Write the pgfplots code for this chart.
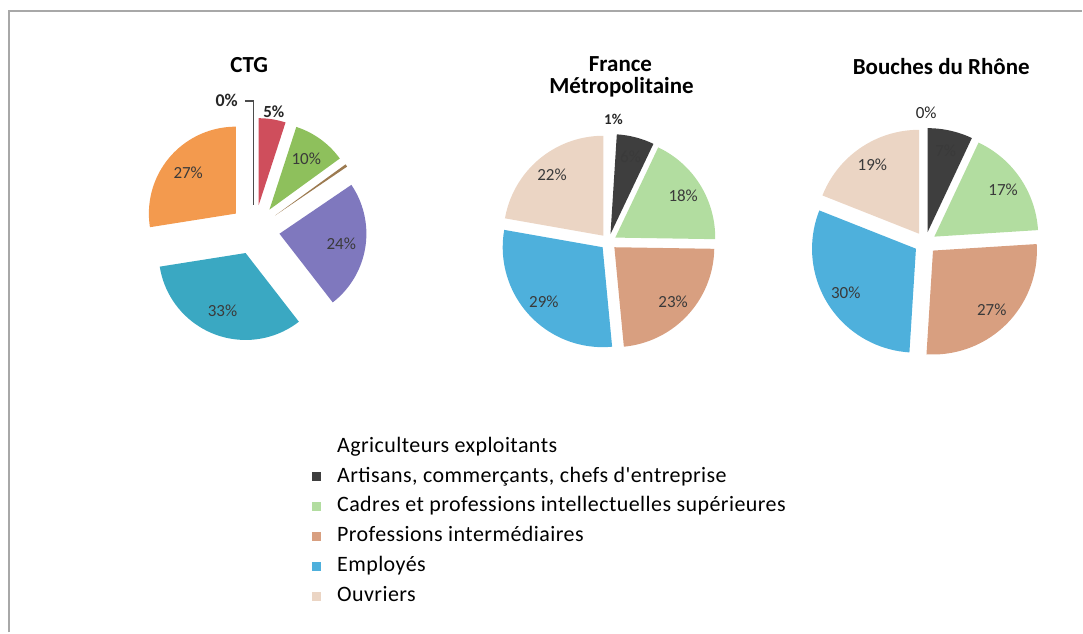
\documentclass[border=0pt]{standalone}
\usepackage{fontspec}
\setmainfont{Carlito}
\newfontfamily\legfont[LetterSpace=2]{Carlito}
\usepackage{pgfplots}
\pgfplotsset{compat=1.18}

\definecolor{ctgRed}{HTML}{CF4E5C}
\definecolor{ctgGreen}{HTML}{8EC05C}
\definecolor{ctgBrown}{HTML}{9C7A50}
\definecolor{ctgPurple}{HTML}{7F78BE}
\definecolor{ctgTeal}{HTML}{3AA8C2}
\definecolor{ctgOrange}{HTML}{F39A4E}
\definecolor{cDark}{HTML}{3E3E3E}
\definecolor{cGreen}{HTML}{B2DDA0}
\definecolor{cBrown}{HTML}{D89F80}
\definecolor{cBlue}{HTML}{4EB0DC}
\definecolor{cBeige}{HTML}{EBD5C4}
\definecolor{lbl}{HTML}{3A3A3A}
\definecolor{frame}{HTML}{A8A8A8}

\newcommand\lblfont{\fontsize{8.5}{10}\selectfont}
\def\cum{0}
\def\pietotal{100}
% #1 cx, #2 cy, #3 r, #4 explode, #5 value, #6 colour, #7 label, #8 label position (fraction of r)
\newcommand\slice[8]{%
  \pgfmathsetmacro\aA{\cum/\pietotal*360}%
  \pgfmathsetmacro\aB{(\cum+#5)/\pietotal*360}%
  \pgfmathsetmacro\aM{(\aA+\aB)/2}%
  \pgfmathsetmacro\vx{#1+#4*sin(\aM)}%
  \pgfmathsetmacro\vy{#2-#4*cos(\aM)}%
  \pgfmathsetmacro\lx{\vx+#8*#3*sin(\aM)}%
  \pgfmathsetmacro\ly{\vy-#8*#3*cos(\aM)}%
  \pgfmathsetmacro\newcum{\cum+#5}%
  \xdef\cum{\newcum}%
  \ifdim #5pt>0pt
    \edef\tmp{\noexpand\addplot[fill=#6, draw=none, forget plot, domain=\aA:\aB, samples=40, variable=\noexpand\t] ({\vx+#3*sin(\noexpand\t)},{\vy-#3*cos(\noexpand\t)}) -- (\vx,\vy) -- cycle;}\tmp
  \fi
  \if\relax\detokenize{#7}\relax\else
    \edef\tmp{\noexpand\node[font=\noexpand\lblfont, text=lbl] at (\lx,\ly) {\unexpanded{#7}};}\tmp
  \fi
}

\begin{document}
\begin{tikzpicture}
\begin{axis}[
  scale only axis, width=541.5pt, height=316.5pt,
  xmin=0, xmax=1083, ymin=0, ymax=633, y dir=reverse,
  hide axis, clip=false,
  legend style={at={(axis cs:312,436)}, anchor=north west, draw=none, fill=none,
    font=\legfont\fontsize{11}{13}\selectfont, inner sep=0pt, row sep=4.5pt,
    nodes={inner xsep=3.5pt, inner ysep=0pt, text height=8pt, text depth=2.5pt}},
  legend cell align=left,
  legend image code/.code={\path[draw=none, fill=none] (0pt,0pt) -- (9pt,0pt);\fill[#1, draw=none] (0pt,-2.2pt) rectangle (4.4pt,2.2pt);},
]
% bounding box and frame
\addplot[draw=none, forget plot] coordinates {(0,0) (1083,633)};
\addplot[frame, line width=0.9pt, forget plot] coordinates {(9,633) (9,11) (1083,11)};

% ---- CTG ----
\def\cum{0}\def\pietotal{100}
\slice{255}{230}{87}{25}{0}{white}{}{0.72}
\slice{255}{230}{87}{25}{5}{ctgRed}{}{0.72}
\slice{255}{230}{87}{25}{10}{ctgGreen}{10\%}{0.72}
\slice{255}{230}{87}{25}{0.5}{ctgBrown}{}{0.72}
\slice{255}{230}{87}{25}{24}{ctgPurple}{24\%}{0.72}
\slice{255}{230}{87}{25}{33}{ctgTeal}{33\%}{0.72}
\slice{255}{230}{87}{25}{27.5}{ctgOrange}{27\%}{0.72}
\addplot[black!70, line width=0.6pt, forget plot] coordinates {(245,101) (254,101) (254,205)};
\node[font=\bfseries\fontsize{9}{10}\selectfont, text=black!85, anchor=east] at (245,100) {0\%};
\node[font=\bfseries\fontsize{8.5}{10}\selectfont, text=black!85] at (274,112) {5\%};
\node[font=\bfseries\fontsize{11.5}{14}\selectfont, anchor=base] at (249.5,73) {CTG};

% ---- France Metropolitaine ----
\def\cum{0}\def\pietotal{99}
\slice{609}{242}{100}{8}{1}{white}{}{0.8}
\slice{609}{242}{100}{8}{6}{cDark}{6\%}{0.8}
\slice{609}{242}{100}{8}{18}{cGreen}{18\%}{0.8}
\slice{609}{242}{100}{8}{23}{cBrown}{23\%}{0.8}
\slice{609}{242}{100}{8}{29}{cBlue}{29\%}{0.8}
\slice{609}{242}{100}{8}{22}{cBeige}{22\%}{0.8}
\node[font=\bfseries\fontsize{7.5}{9}\selectfont, text=black!85] at (614,119) {1\%};
\node[font=\bfseries\fontsize{11.5}{14}\selectfont, anchor=base] at (621,72) {France};
\node[font=\bfseries\fontsize{11.5}{14}\selectfont, anchor=base] at (622,94) {Métropolitaine};

% ---- Bouches du Rhone ----
\def\cum{0}\def\pietotal{100}
\slice{926}{243}{104}{11}{0}{white}{}{0.8}
\slice{926}{243}{104}{11}{7}{cDark}{7\%}{0.8}
\slice{926}{243}{104}{11}{17}{cGreen}{17\%}{0.8}
\slice{926}{243}{104}{11}{27}{cBrown}{27\%}{0.8}
\slice{926}{243}{104}{11}{30}{cBlue}{30\%}{0.8}
\slice{926}{243}{104}{11}{19}{cBeige}{19\%}{0.8}
\node[font=\fontsize{8.5}{10}\selectfont, text=black!85] at (927,113) {0\%};
\node[font=\bfseries\fontsize{11.5}{14}\selectfont, anchor=base] at (942,75) {Bouches du Rhône};

% ---- legend ----
\addlegendimage{fill=white}
\addlegendentry{Agriculteurs exploitants}
\addlegendimage{fill=cDark}
\addlegendentry{Artisans, commerçants, chefs d'entreprise}
\addlegendimage{fill=cGreen}
\addlegendentry{Cadres et professions intellectuelles supérieures}
\addlegendimage{fill=cBrown}
\addlegendentry{Professions intermédiaires}
\addlegendimage{fill=cBlue}
\addlegendentry{Employés}
\addlegendimage{fill=cBeige}
\addlegendentry{Ouvriers}
\end{axis}
\end{tikzpicture}
\end{document}
